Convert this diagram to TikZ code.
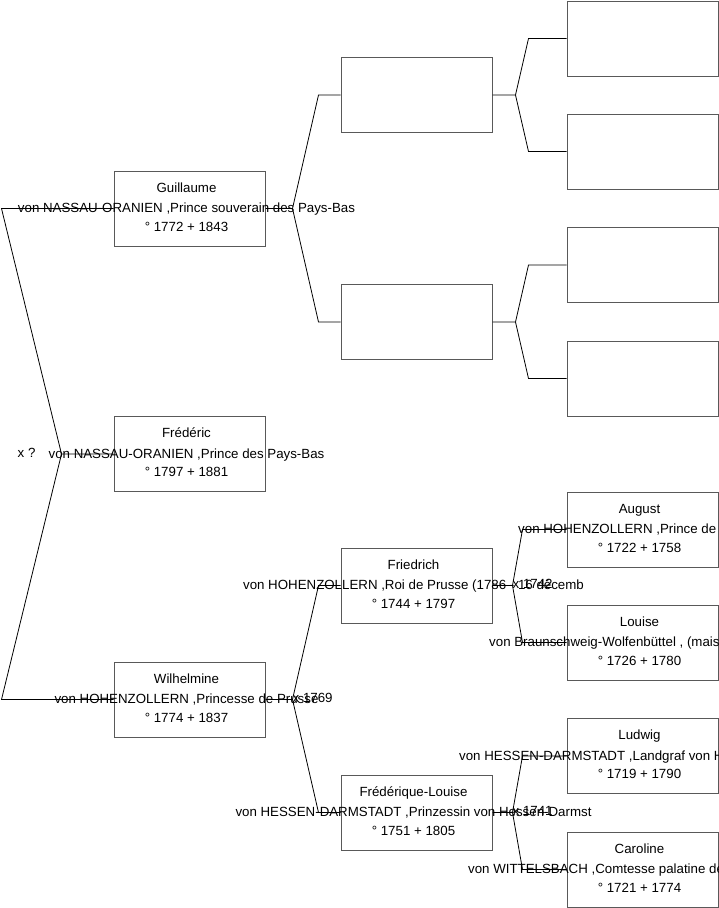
\documentclass[tikz,border=0pt]{standalone}
\usepackage{fontspec}
\setmainfont{Liberation Sans}
\usetikzlibrary{calc}
\begin{document}
\begin{tikzpicture}[x=1pt,y=-1pt,
  pbox/.style={draw=black!65, line width=1pt, minimum width=151pt, minimum height=75pt, inner sep=0pt, anchor=center},
  txt/.style={font=\fontsize{13.3}{16}\selectfont, inner sep=0pt, text=black, anchor=base},
  txtw/.style={txt, anchor=base west},
  link/.style={draw=black, line width=0.8pt}]
\useasboundingbox (0,0) rectangle (719,908);
\clip (0,0) rectangle (719,908);

% boxes
\node[pbox] (G)  at (189.5,208.5) {};
\node[pbox] (FD) at (189.5,454) {};
\node[pbox] (W)  at (189.5,699.5) {};
\node[pbox] (E1) at (416.5,95) {};
\node[pbox] (E2) at (416.5,322) {};
\node[pbox] (FR) at (416.5,585.5) {};
\node[pbox] (FL) at (416.5,812.5) {};
\node[pbox] (B1) at (642.5,38.5) {};
\node[pbox] (B2) at (642.5,151.5) {};
\node[pbox] (B3) at (642.5,265) {};
\node[pbox] (B4) at (642.5,378.5) {};
\node[pbox] (AU) at (642.5,529.5) {};
\node[pbox] (LO) at (642.5,642.5) {};
\node[pbox] (LU) at (642.5,756) {};
\node[pbox] (CA) at (642.5,869.5) {};

% connectors: left (marriage of G and W -> FD)
\coordinate (fFD) at ($(FD.west)+(-52,0)$);
\coordinate (bG) at ($(G.west)+(-112,0)$);
\coordinate (bW) at ($(W.west)+(-112,0)$);
\draw[link] (FD.west) -- (fFD) -- (bG) -- (G.west);
\draw[link] (fFD) -- (bW) -- (W.west);

% G -> E1, E2
\coordinate (fG) at ($(G.east)+(27,0)$);
\draw[link] (G.east) -- (fG) -- ($(E1.west)+(-22,0)$) -- (E1.west);
\draw[link] (fG) -- ($(E2.west)+(-22,0)$) -- (E2.west);
% W -> FR, FL
\coordinate (fW) at ($(W.east)+(27,0)$);
\draw[link] (W.east) -- (fW) -- ($(FR.west)+(-22,0)$) -- (FR.west);
\draw[link] (fW) -- ($(FL.west)+(-22,0)$) -- (FL.west);
% E1 -> B1, B2
\coordinate (fE1) at ($(E1.east)+(23,0)$);
\draw[link] (E1.east) -- (fE1) -- ($(B1.west)+(-38,0)$) -- (B1.west);
\draw[link] (fE1) -- ($(B2.west)+(-38,0)$) -- (B2.west);
% E2 -> B3, B4
\coordinate (fE2) at ($(E2.east)+(23,0)$);
\draw[link] (E2.east) -- (fE2) -- ($(B3.west)+(-38,0)$) -- (B3.west);
\draw[link] (fE2) -- ($(B4.west)+(-38,0)$) -- (B4.west);
% FR -> AU, LO
\coordinate (fFR) at ($(FR.east)+(20,0)$);
\draw[link] (FR.east) -- (fFR) -- ($(AU.west)+(-44,0)$) -- (AU.west);
\draw[link] (fFR) -- ($(LO.west)+(-44,0)$) -- (LO.west);
% FL -> LU, CA
\coordinate (fFL) at ($(FL.east)+(20,0)$);
\draw[link] (FL.east) -- (fFL) -- ($(LU.west)+(-44,0)$) -- (LU.west);
\draw[link] (fFL) -- ($(CA.west)+(-44,0)$) -- (CA.west);

% texts
\newcommand\ptext[4]{%
  \node[txt] (#1a) at ($(#1)+(-3,-16.3)$) {#2};
  \node[txt] (#1b) at ($(#1)+(-3,4.2)$) {#3};
  \node[txt] (#1c) at ($(#1)+(-3,22.8)$) {#4};}
\newcommand\ptextw[5]{%
  \node[txt] (#1a) at ($(#1)+(-3,-16.3)$) {#2};
  \node[txtw] (#1b) at ($(#1)+(0,4.2)$) [xshift=#5] {#3};
  \node[txt] (#1c) at ($(#1)+(-3,22.8)$) {#4};}

\ptext{G}{Guillaume}{von NASSAU-ORANIEN ,Prince souverain des Pays-Bas}{° 1772 + 1843}
\ptext{FD}{Frédéric}{von NASSAU-ORANIEN ,Prince des Pays-Bas}{° 1797 + 1881}
\ptext{W}{Wilhelmine}{von HOHENZOLLERN ,Princesse de Prusse}{° 1774 + 1837}
\ptext{FR}{Friedrich}{von HOHENZOLLERN ,Roi de Prusse (1786 - 16 décemb}{° 1744 + 1797}
\ptext{FL}{Frédérique-Louise}{von HESSEN-DARMSTADT ,Prinzessin von Hessen-Darmst}{° 1751 + 1805}
\ptextw{AU}{August}{von HOHENZOLLERN ,Prince de Prusse}{° 1722 + 1758}{-124.5pt}
\ptextw{LO}{Louise}{von Braunschweig-Wolfenbüttel , (maison}{° 1726 + 1780}{-153.5pt}
\ptextw{LU}{Ludwig}{von HESSEN-DARMSTADT ,Landgraf von Hessen}{° 1719 + 1790}{-183.5pt}
\ptextw{CA}{Caroline}{von WITTELSBACH ,Comtesse palatine de}{° 1721 + 1774}{-174.5pt}

% marriage labels
\node[txtw] (mFD) at ($(fFD)+(-44,3)$) {x ?};
\node[txtw] (mW)  at ($(fW)+(0,2.5)$) {x 1769};
\node[txtw] (mFR) at ($(fFR)+(0,3)$) {x 1742};
\node[txtw] (mFL) at ($(fFL)+(0,3)$) {x 1741};
\end{tikzpicture}
\end{document}
